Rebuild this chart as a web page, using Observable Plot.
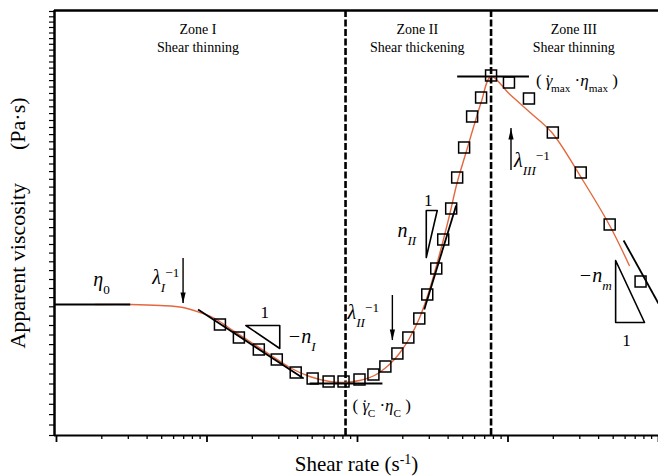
<!DOCTYPE html>
<html><head><meta charset="utf-8">
<script src="https://cdn.jsdelivr.net/npm/d3@7"></script>
<script src="https://cdn.jsdelivr.net/npm/@observablehq/plot@0.6"></script>
<style>body{margin:0;background:#fff;}</style>
</head><body><div id="chart"></div>
<script>
// Measured points (shear rate, s^-1 ; apparent viscosity, arbitrary units)
const squareShear = [1.219,1.629,2.210,2.909,3.886,5.035,6.427,8.077,10.31,12.76,15.32,18.41,21.77,25.74,29.08,33.37,37.12,41.93,45.95,51.11,57.75,66.26,77.17,101.5,137.8,198.6,304.3,473.8,760.1];
const squareVisc  = [11.1,9.8,8.6,7.6,6.3,5.7,5.4,5.4,5.6,6.1,6.9,8.2,9.8,11.7,14.1,16.7,19.6,22.7,25.8,28.8,31.9,33.8,36.0,35.3,33.7,30.3,26.3,21.1,15.4];
// Fitted model curve
const curveShear = [0.1813,0.3091,0.4884,0.6935,0.8988,1.130,1.420,1.927,2.613,3.545,4.810,6.526,8.202,10.31,12.96,16.29,18.97,22.10,25.74,29.99,34.92,40.67,45.95,51.90,58.64,66.26,77.17,101.5,137.8,195.6,309.1,473.8,640.0];
const curveVisc  = [13.1,13.1,13.0,12.8,12.3,11.7,10.7,9.4,8.1,6.8,5.9,5.4,5.3,5.5,6.0,7.1,8.2,9.7,11.7,14.5,18.0,21.9,25.3,28.0,30.7,33.3,35.9,34.2,32.4,30.3,25.7,21.0,17.0];
// Tangent / asymptote lines
const tanX1 = [0.097,0.8718,4.810,27.78,45.95,586.4];
const tanY1 = [13.1,12.6,5.2,12.6,35.9,19.5];
const tanX2 = [0.3091,4.389,14.64,45.25,137.8,1000];
const tanY2 = [13.1,5.7,5.2,23.0,35.9,13.2];
// Slope triangles
const triId = ["I","I","I","I","II","II","II","II","m","m","m","m"];
const triX  = [1.8126,3.044,3.044,1.8126, 28.64,33.87,28.64,28.64, 519.0,519.0,807.8,519.0];
const triY  = [11.0,11.0,8.7,11.0, 22.5,22.5,17.8,22.5, 17.5,11.3,11.3,17.5];
// Zone boundaries (critical and maximum shear rates)
const zoneBounds = [8.328, 77.17];
const zoneNames = ["Zone I\nShear thinning","Zone II\nShear thickening","Zone III\nShear thinning"];
const zoneX = [0.8718, 24.97, 273.6];
const zoneY = [39.8, 39.8, 39.8];
// Arrows marking relaxation times
const arrowX = [0.6935, 17.05, 104.7];
const arrowTail = [17.7, 14.0, 26.5];
const arrowTip = [13.2, 9.5, 30.7];
const arrowDir = ["down","down","up"];
// Symbol labels
const symText = ["η_{0}","λ_{I}^{−1}","λ_{II}^{−1}","λ_{III}^{−1}","−n_{I}","n_{II}","−n_{m}"];
const symX = [0.1758, 0.4323, 8.586, 109.6, 3.4388, 18.41, 295.3];
const symY = [15.6, 15.8, 12.3, 27.5, 9.9, 20.5, 16.0];
const oneX = [2.4218, 29.53, 613.9];
const oneY = [12.3, 23.5, 9.5];
const pointText = ["( *{γ}~{˙}_{max} ·*{η}_{max} )", "( *{γ}~{˙}_{C} ·*{η}_{C} )"];
const pointX = [153.2, 9.266];
const pointY = [35.5, 3.0];
// Axis ticks (no labels)
const xMajorTicks = [0.1,1,10,100,1000];
const xMinorTicks = [0.2,0.3,0.4,0.5,0.6,0.7,0.8,0.9,2,3,4,5,6,7,8,9,20,30,40,50,60,70,80,90,200,300,400,500,600,700,800,900];
const yTicks = [0,1.05,2.09,3.12,4.14,5.15,6.15,7.14,8.12,9.09,10.05,11.0,11.94,12.87,13.79,14.7,15.6,16.49,17.37,18.24,19.1,19.95,20.79,21.62,22.44,23.25,24.05,24.84,25.62,26.39,27.15,27.9,28.64,29.37,30.09,30.8,31.5,32.19,32.87,33.54,34.2,34.85,35.49,36.12,36.74,37.35,37.95,38.54,39.12,39.69,40.25,40.8,41.34,41.87,42.4];
const xTitle = "Shear rate (s^{-1})";
const yTitle = "Apparent viscosity\u2003\u2002(Pa·s)";

const squares = squareShear.map((x,i)=>({x, y: squareVisc[i]}));
const curve = curveShear.map((x,i)=>({x, y: curveVisc[i]}));
const tangents = tanX1.map((x1,i)=>({x1, y1: tanY1[i], x2: tanX2[i], y2: tanY2[i]}));
const tris = triX.map((x,i)=>({id: triId[i], x, y: triY[i]}));
const arrows = arrowX.map((x,i)=>({x, tail: arrowTail[i], tip: arrowTip[i], dir: arrowDir[i]}));
const syms = symText.map((t,i)=>({t, x: symX[i], y: symY[i]}));
const ones = oneX.map((x,i)=>({x, y: oneY[i]}));
const pts = pointText.map((t,i)=>({t, x: pointX[i], y: pointY[i]}));
const zones = zoneNames.map((t,i)=>({t, x: zoneX[i], y: zoneY[i]}));

const arrowHead = {draw(ctx){ ctx.moveTo(0,0); ctx.lineTo(-2.6,11); ctx.lineTo(2.6,11); ctx.closePath(); }};

const chart = Plot.plot({
  width: 658, height: 476,
  marginLeft: 54, marginRight: 0, marginTop: 10, marginBottom: 41,
  x: {type: "log", domain: [0.097, 1000]},
  y: {domain: [0, 42.5]},
  style: {fontFamily: "'Liberation Serif','Times New Roman',serif", background: "#fff", color: "#000", overflow: "visible"},
  marks: [
    Plot.axisX(xMinorTicks, {tickSize: 4, tickFormat: () => "", label: null, strokeWidth: 1.3}),
    Plot.axisX(xMajorTicks, {tickSize: 7, tickFormat: () => "", label: null, strokeWidth: 1.8}),
    Plot.axisY(yTicks, {tickSize: 5, tickFormat: () => "", label: null, strokeWidth: 1.2}),
    Plot.ruleY([42.5], {strokeWidth: 2.5}),
    Plot.ruleY([0], {strokeWidth: 2}),
    Plot.ruleX([0.097], {strokeWidth: 2.5}),
    Plot.ruleX(zoneBounds, {strokeWidth: 2.6, strokeDasharray: "7,2.5"}),
    Plot.line(curve, {x: "x", y: "y", stroke: "#e4683f", strokeWidth: 1.4, curve: "catmull-rom"}),
    Plot.link(tangents, {x1: "x1", y1: "y1", x2: "x2", y2: "y2", stroke: "black", strokeWidth: 1.8}),
    Plot.line(tris, {x: "x", y: "y", z: "id", stroke: "black", strokeWidth: 1.6}),
    Plot.dot(squares, {x: "x", y: "y", symbol: "square", r: 6.2, stroke: "black", strokeWidth: 1.5, fill: "none"}),
    Plot.ruleX(arrows, {x: "x", y1: "tail", y2: "tip", strokeWidth: 1.4}),
    Plot.dot(arrows, {x: "x", y: "tip", symbol: arrowHead, r: 4, fill: "black", stroke: null, rotate: d => d.dir === "down" ? 180 : 0}),
    Plot.text(zones, {x: "x", y: "y", text: "t", fontSize: 14, lineHeight: 1.25}),
    Plot.text(syms, {x: "x", y: "y", text: "t", textAnchor: "start", fontSize: 20, fontStyle: "italic"}),
    Plot.text(ones, {x: "x", y: "y", text: () => "1", fontSize: 17}),
    Plot.text(pts, {x: "x", y: "y", text: "t", textAnchor: "start", fontSize: 17}),
    Plot.text([xTitle], {frameAnchor: "bottom", lineAnchor: "bottom", dy: 35, fontSize: 21}),
    Plot.text([yTitle], {frameAnchor: "left", textAnchor: "middle", rotate: -90, dx: -37, fontSize: 22})
  ]
});

// Markup: _{..} subscript, ^{..} superscript, *{..} italic, ~{..} overlay accent
const NS = "http://www.w3.org/2000/svg";
chart.querySelectorAll("text").forEach(t => {
  const s = t.textContent;
  if (!/[_^*~]\{/.test(s)) return;
  t.textContent = "";
  const re = /([_^*~])\{([^}]*)\}|([^_^*~]+)/g;
  let m;
  while ((m = re.exec(s))) {
    const ts = document.createElementNS(NS, "tspan");
    if (m[3] !== undefined) ts.textContent = m[3];
    else {
      ts.textContent = m[2];
      if (m[1] === "_" || m[1] === "^") {
        ts.setAttribute("baseline-shift", m[1] === "_" ? "sub" : "super");
        ts.setAttribute("font-size", "66%");
        if (m[1] === "^" || /^[0-9]+$/.test(m[2])) ts.setAttribute("font-style", "normal");
      } else if (m[1] === "*") {
        ts.setAttribute("font-style", "italic");
      } else {
        ts.setAttribute("dx", "-0.42em");
      }
    }
    t.appendChild(ts);
  }
});
document.getElementById("chart").appendChild(chart);
</script>
</body></html>
